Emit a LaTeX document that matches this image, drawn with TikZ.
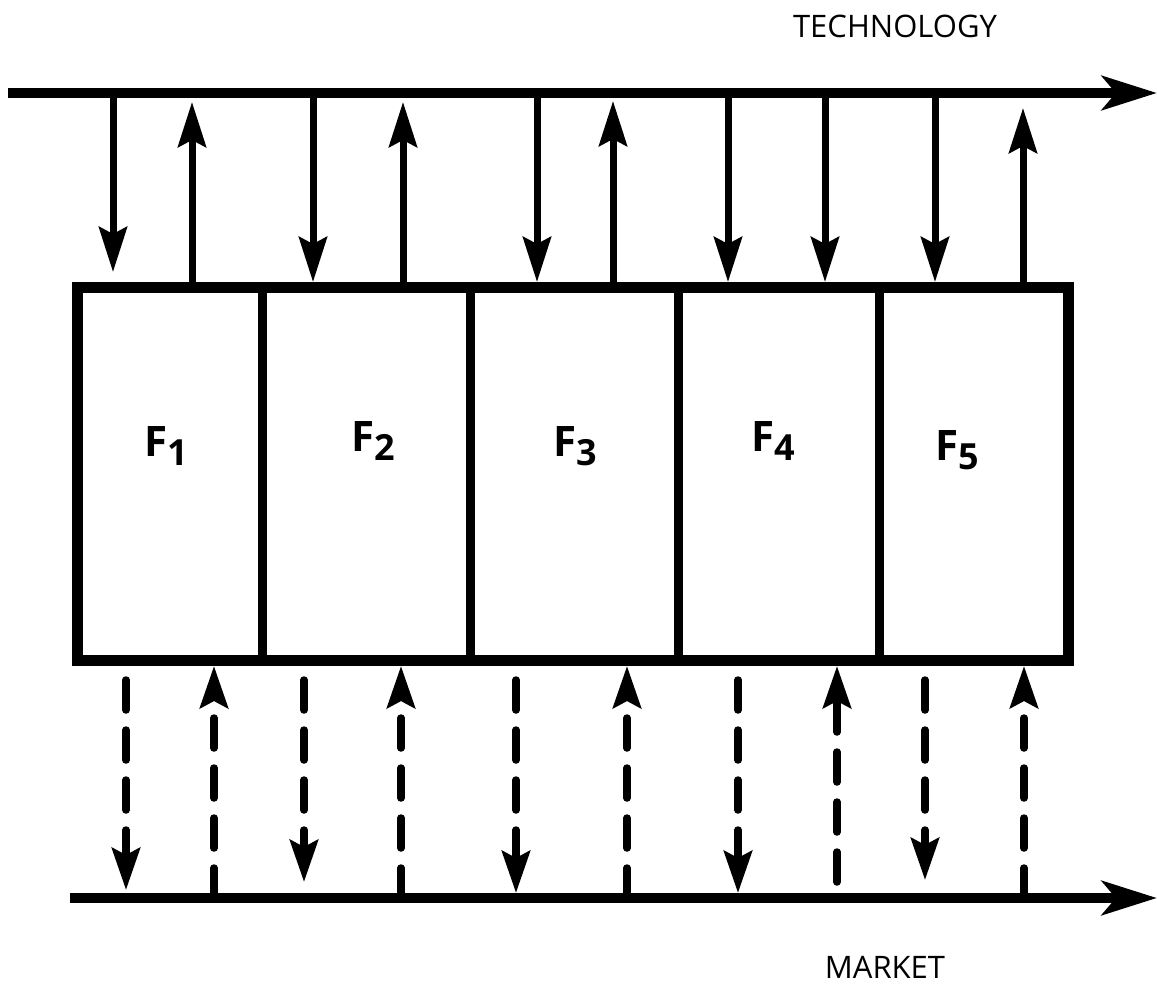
\documentclass[tikz,border=0pt]{standalone}
\usepackage{fontspec}
\setmainfont{Open Sans}
\usetikzlibrary{arrows.meta,calc}
\begin{document}
\begin{tikzpicture}[x=1pt,y=-1pt,
  flow/.style={line width=10pt, -{Stealth[length=55pt,width=34pt,inset=14pt]}},
  cell/.style={draw, line width=9pt, inner sep=0pt, outer sep=0pt, minimum height=373pt},
  flabel/.style={font=\fontsize{42}{42}\selectfont\bfseries},
  tarr/.style={line width=7pt, -{Stealth[length=45pt,width=28pt,inset=7pt]}},
  marr/.style={line width=7.5pt, line cap=round, dash pattern=on 30pt off 20pt,
    -{Stealth[length=42pt,width=28pt,inset=7pt]}},
  lbl/.style={font=\fontsize{31}{31}\selectfont, anchor=base, inner sep=0pt}
]
\useasboundingbox (0,0) rectangle (1157,990);
\newcommand{\sub}[1]{\raisebox{-9pt}{\fontsize{36}{36}\selectfont #1}}

% cells
\node[cell, minimum width=185pt] (F1) at (169.5,473.5) {};
\node[cell, minimum width=208pt] (F2) at (366,473.5) {};
\node[cell, minimum width=208pt] (F3) at (574,473.5) {};
\node[cell, minimum width=201pt] (F4) at (778.5,473.5) {};
\node[cell, minimum width=189pt] (F5) at (973.5,473.5) {};
\draw[line width=11pt] (F1.north west) rectangle (F5.south east);

\node[flabel] (L1) at (166,446) {F\sub{1}};
\node[flabel] (L2) at (373,441) {F\sub{2}};
\node[flabel] (L3) at (575,446) {F\sub{3}};
\node[flabel] (L4) at (773,441) {F\sub{4}};
\node[flabel] (L5) at (957,450) {F\sub{5}};

% technology line
\coordinate (T) at (8,93);
\coordinate (Tend) at (1157,93);
\draw[flow] (T) -- (Tend);
\node[lbl] (tech) at (895,38) {TECHNOLOGY};

% market line
\coordinate (M) at (70,898);
\coordinate (Mend) at (1157,898);
\draw[flow] (M) -- (Mend);
\node[lbl] (mkt) at (885,978) {MARKET};

% top arrows
\draw[tarr] (113,0 |- T) -- ($(113,0 |- F1.north)+(0,-15)$);
\draw[tarr] (192,0 |- F1.north) -- ($(192,0 |- T)+(0,9)$);
\draw[tarr] (313,0 |- T) -- ($(313,0 |- F2.north)+(0,-5)$);
\draw[tarr] (403,0 |- F2.north) -- ($(403,0 |- T)+(0,9)$);
\draw[tarr] (537,0 |- T) -- ($(537,0 |- F3.north)+(0,-5)$);
\draw[tarr] (613,0 |- F3.north) -- ($(613,0 |- T)+(0,8)$);
\draw[tarr] (728,0 |- T) -- ($(728,0 |- F4.north)+(0,-5)$);
\draw[tarr] (825,0 |- T) -- ($(825,0 |- F4.north)+(0,-5)$);
\draw[tarr] (935,0 |- T) -- ($(935,0 |- F5.north)+(0,-5)$);
\draw[tarr] (1023,0 |- F5.north) -- ($(1023,0 |- T)+(0,15)$);

% bottom dashed arrows
\draw[marr, dash phase=30pt] (126,0 |- F1.south) -- ($(126,0 |- M)+(0,-8)$);
\draw[marr] (214,0 |- M) -- ($(214,0 |- F1.south)+(0,6)$);
\draw[marr, dash phase=30pt] (304,0 |- F2.south) -- ($(304,0 |- M)+(0,-16)$);
\draw[marr] (401,0 |- M) -- ($(401,0 |- F2.south)+(0,6)$);
\draw[marr, dash phase=30pt] (516,0 |- F3.south) -- ($(516,0 |- M)+(0,-5)$);
\draw[marr] (627,0 |- M) -- ($(627,0 |- F3.south)+(0,6)$);
\draw[marr, dash phase=30pt] (738,0 |- F4.south) -- ($(738,0 |- M)+(0,-5)$);
\draw[marr] ($(837,0 |- M)+(0,-16)$) -- ($(837,0 |- F4.south)+(0,6)$);
\draw[marr, dash phase=30pt] (925,0 |- F5.south) -- ($(925,0 |- M)+(0,-18)$);
\draw[marr] (1024,0 |- M) -- ($(1024,0 |- F5.south)+(0,6)$);
\end{tikzpicture}
\end{document}
